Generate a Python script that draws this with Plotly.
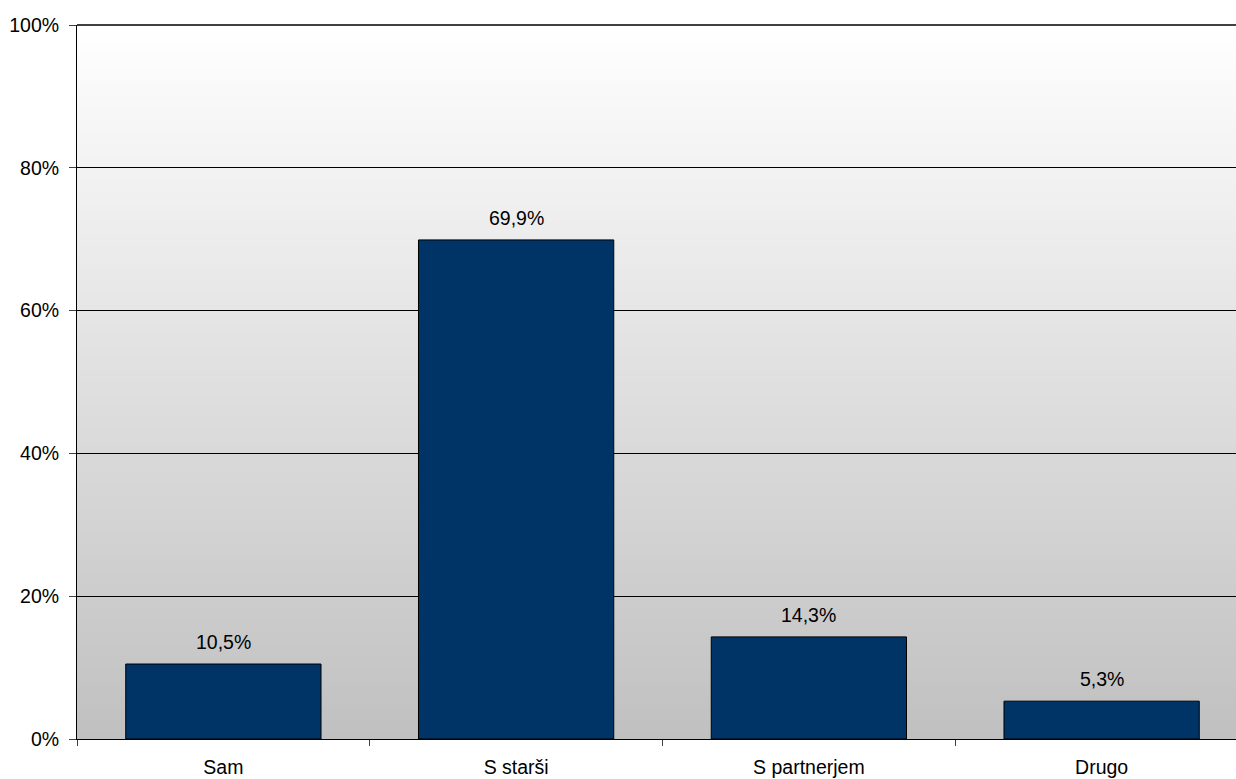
import plotly.graph_objects as go

categories = ["Sam", "S starši", "S partnerjem", "Drugo"]
values = [10.5, 69.9, 14.3, 5.3]
y_ticks = [0, 20, 40, 60, 80, 100]

FONT = "Liberation Sans, Arial, sans-serif"
FS = 19.5

fig = go.Figure()
fig.add_trace(go.Bar(
    x=categories, y=values,
    marker=dict(color="#003366", line=dict(color="#000000", width=1)),
    width=0.667,
))

for c, v in zip(categories, values):
    fig.add_annotation(x=c, y=v, text=f"{v:.1f}".replace(".", ",") + "%",
                       showarrow=False, yanchor="bottom", yshift=9,
                       font=dict(family=FONT, size=FS, color="#000000"))

# vertical gradient background (white at top to light gray at bottom)
n = 120
top = (255, 255, 255)
bot = (192, 192, 192)
for i in range(n):
    t = (i + 0.5) / n
    r = round(bot[0] + (top[0] - bot[0]) * t)
    g = round(bot[1] + (top[1] - bot[1]) * t)
    b = round(bot[2] + (top[2] - bot[2]) * t)
    fig.add_shape(type="rect", xref="paper", yref="paper",
                  x0=0, x1=1, y0=i / n, y1=(i + 1) / n + 0.002,
                  fillcolor=f"rgb({r},{g},{b})", line=dict(width=0),
                  layer="below")

# top border line
fig.add_shape(type="line", xref="paper", yref="paper", x0=0, x1=1, y0=1, y1=1,
              line=dict(color="#404040", width=2))

fig.update_layout(
    width=1248, height=779,
    margin=dict(l=77, r=0, t=25, b=40, autoexpand=False),
    paper_bgcolor="#ffffff",
    plot_bgcolor="rgba(0,0,0,0)",
    showlegend=False,
    font=dict(family=FONT, size=FS, color="#000000"),
)
fig.update_xaxes(
    type="category", automargin=False,
    showline=True, linecolor="#000000", linewidth=1,
    ticks="outside", ticklen=6, tickcolor="#404040", tickwidth=1,
    tickson="boundaries",
    ticklabelstandoff=11,
    showgrid=False,
    tickfont=dict(family=FONT, size=FS, color="#000000"),
)
fig.update_yaxes(
    range=[0, 100], automargin=False,
    tickvals=y_ticks, ticktext=[f"{t}%" for t in y_ticks],
    showline=True, linecolor="#000000", linewidth=1,
    ticks="outside", ticklen=7, tickcolor="#404040",
    ticklabelstandoff=6,
    showgrid=True, gridcolor="#000000", gridwidth=1,
    zeroline=False,
    tickfont=dict(family=FONT, size=FS, color="#000000"),
)

fig.write_html("out.html", config={"displayModeBar": False},
               post_script="document.body.style.margin='0';document.body.style.overflow='hidden';")
